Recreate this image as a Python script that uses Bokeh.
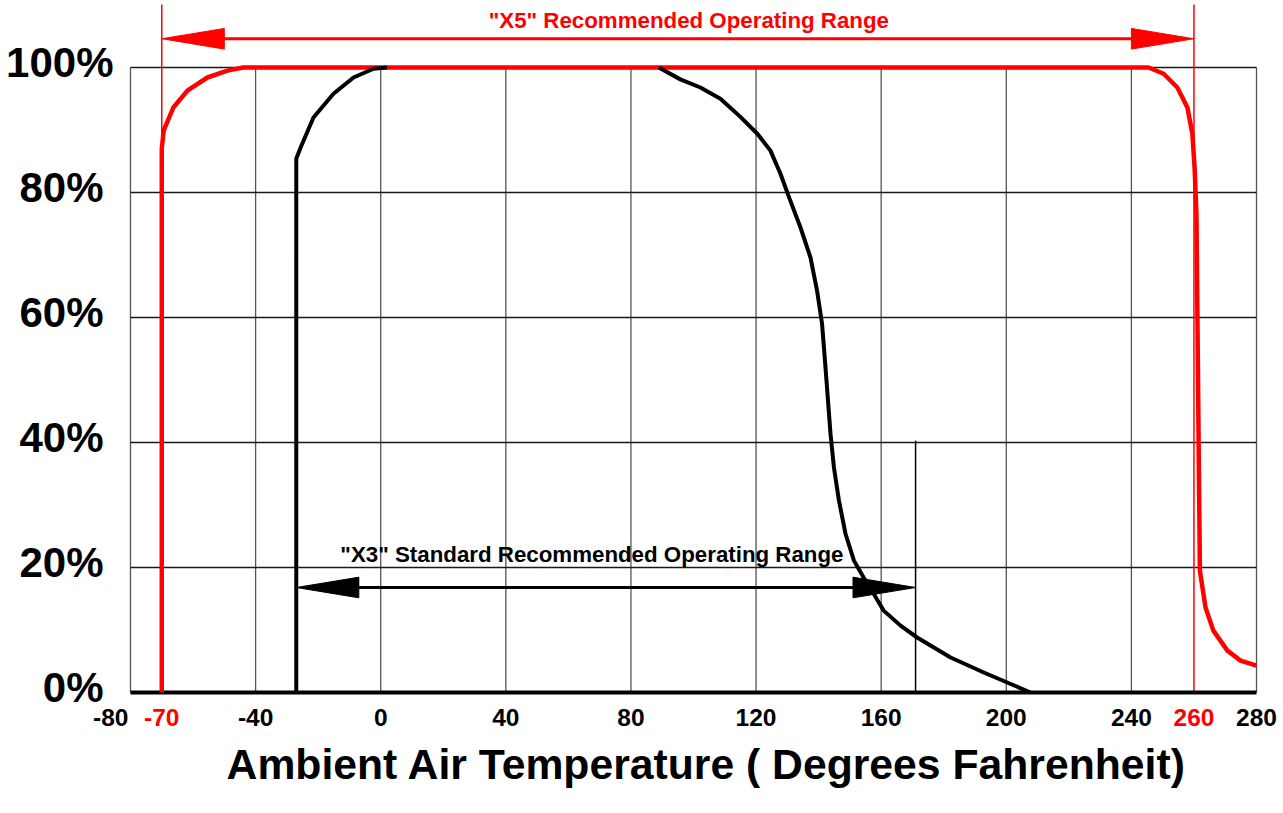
from bokeh.plotting import figure
from bokeh.models import Range1d
from bokeh.core.properties import value
from bokeh.embed import file_html
from bokeh.resources import INLINE

# ---------------- data ----------------
# "X5" curve (red): % performance vs ambient temperature (deg F)
x5_temp = [-70, -70, -69.4, -66.3, -61.8, -55.4, -49.0, -44.0, 245.5, 250.3, 254.7,
           257.9, 259.5, 260.2, 260.8, 261.3, 261.9, 263.7, 266.2, 270.7, 274.9, 280.0]
x5_pct = [0, 87.0, 89.9, 93.6, 96.3, 98.4, 99.5, 100, 100, 99.0, 96.8,
          93.6, 89.4, 84.0, 76.6, 50.0, 19.5, 13.6, 9.9, 6.7, 5.1, 4.3]

# "X3" curve (black): cold side and hot side
x3_cold_temp = [-27, -27, -25.6, -21.5, -15.1, -8.7, -2.3, 2.0]
x3_cold_pct = [0, 85.4, 87.2, 92.0, 95.8, 98.4, 99.8, 100]
x3_hot_temp = [88.9, 95.8, 102.2, 108.6, 115.0, 120.4, 124.6, 127.8, 130.5, 134.2,
               137.4, 139.5, 141.1, 142.2, 143.8, 144.9, 146.5, 148.6, 151.3, 154.4,
               157.6, 160.8, 166.2, 171.5, 182.2, 192.8, 200.3, 207.7]
x3_hot_pct = [100, 98.1, 96.8, 95.0, 92.1, 89.4, 86.7, 83.0, 79.3, 74.4,
              69.6, 64.3, 59.0, 52.0, 41.4, 36.0, 30.7, 25.4, 21.1, 18.4,
              15.8, 13.1, 10.7, 8.8, 5.6, 3.2, 1.6, 0]

x5_range = [-70, 260]
x3_range = [-27, 171]
x3_marker_top = 40.3

x_ticks = [-80, -40, 0, 40, 80, 120, 160, 200, 240, 280]
red_ticks = [-70, 260]
y_ticks = [0, 20, 40, 60, 80, 100]

x5_label = '"X5" Recommended Operating Range'
x3_label = '"X3" Standard Recommended Operating Range'
x_title = "Ambient Air Temperature ( Degrees Fahrenheit)"

# ---------------- layout constants ----------------
X_MIN, X_MAX = x_ticks[0], x_ticks[-1]
Y_MIN, Y_MAX = y_ticks[0], y_ticks[-1]
# the data frame fills the whole canvas so that tick labels can be drawn as text
VIEW_X = (-121.56, 288.63)
VIEW_Y = (-19.36, 110.72)
RED_LINE_TOP = 110.1
X5_ARROW_Y = 104.6
X3_ARROW_Y = 16.8
X5_TEXT_Y = 107.5
X3_TEXT_Y = 22.1
HEAD_LEN = 20.0          # deg F
HEAD_HALF = 1.65         # %
FONT = value("Liberation Sans")

p = figure(width=1283, height=813,
           x_range=Range1d(*VIEW_X), y_range=Range1d(*VIEW_Y),
           x_axis_location=None, y_axis_location=None,
           output_backend="svg", toolbar_location=None,
           min_border=0)
p.min_border_left = p.min_border_right = p.min_border_top = p.min_border_bottom = 0
p.outline_line_color = None
p.xgrid.visible = False
p.ygrid.visible = False
p.background_fill_color = "white"
p.border_fill_color = "white"

# ---------------- grid box (0..100%) ----------------
n_x = len(x_ticks)
p.segment(x0=x_ticks, y0=[Y_MIN] * n_x, x1=x_ticks, y1=[Y_MAX] * n_x,
          line_color="#555555", line_width=1.3)
hy = y_ticks[1:]
p.segment(x0=[X_MIN] * len(hy), y0=hy, x1=[X_MAX] * len(hy), y1=hy,
          line_color="#1a1a1a", line_width=1.3)

# ---------------- tick labels ----------------
p.text(x=[X_MIN] * (len(y_ticks) - 1), y=y_ticks[:-1], text=[f"{t}%" for t in y_ticks[:-1]],
       x_offset=-27, y_offset=-5, text_align="right", text_baseline="middle",
       text_font=FONT, text_font_style="bold", text_font_size="42px", text_color="black")
p.text(x=[X_MIN], y=[Y_MAX], text=[f"{Y_MAX}%"],
       x_offset=-17, y_offset=-5, text_align="right", text_baseline="middle",
       text_font=FONT, text_font_style="bold", text_font_size="42px", text_color="black")

p.text(x=x_ticks[1:], y=[Y_MIN] * (n_x - 1), text=[str(t) for t in x_ticks[1:]],
       y_offset=16, text_align="center", text_baseline="top",
       text_font=FONT, text_font_style="bold", text_font_size="24.5px", text_color="black")
p.text(x=[X_MIN], y=[Y_MIN], text=[str(X_MIN)],
       x_offset=-2, y_offset=16, text_align="right", text_baseline="top",
       text_font=FONT, text_font_style="bold", text_font_size="24.5px", text_color="black")
p.text(x=red_ticks, y=[Y_MIN] * len(red_ticks), text=[str(t) for t in red_ticks],
       y_offset=16, text_align="center", text_baseline="top",
       text_font=FONT, text_font_style="bold", text_font_size="24.5px", text_color="red")

p.text(x=[(X_MIN + X_MAX) / 2], y=[Y_MIN], text=[x_title],
       x_offset=13, y_offset=71, text_align="center", text_baseline="alphabetic",
       text_font=FONT, text_font_style="bold", text_font_size="42.7px", text_color="black")

# ---------------- marker lines ----------------
p.segment(x0=x5_range, y0=[Y_MIN] * 2, x1=x5_range, y1=[RED_LINE_TOP] * 2,
          line_color="red", line_width=1.5)
p.segment(x0=[x3_range[1]], y0=[Y_MIN], x1=[x3_range[1]], y1=[x3_marker_top],
          line_color="black", line_width=1.5)

# bottom axis line
p.segment(x0=[X_MIN], y0=[Y_MIN], x1=[X_MAX], y1=[Y_MIN], line_color="black", line_width=4)

# ---------------- curves ----------------
p.line(x5_temp, x5_pct, line_color="red", line_width=4.5, line_join="round")
p.line(x3_cold_temp, x3_cold_pct, line_color="black", line_width=4, line_join="round")
p.line(x3_hot_temp, x3_hot_pct, line_color="black", line_width=4, line_join="round")

# ---------------- range arrows ----------------
def arrow(rng, y, color):
    a, b = rng
    p.segment(x0=[a + HEAD_LEN * 0.5], y0=[y], x1=[b - HEAD_LEN * 0.5], y1=[y],
              line_color=color, line_width=3)
    p.patches(xs=[[a, a + HEAD_LEN, a + HEAD_LEN], [b, b - HEAD_LEN, b - HEAD_LEN]],
              ys=[[y, y + HEAD_HALF, y - HEAD_HALF], [y, y + HEAD_HALF, y - HEAD_HALF]],
              fill_color=color, line_color=color, line_width=1)

arrow(x5_range, X5_ARROW_Y, "red")
arrow(x3_range, X3_ARROW_Y, "black")

p.text(x=[sum(x5_range) / 2], y=[X5_TEXT_Y], text=[x5_label], x_offset=11,
       text_align="center", text_baseline="alphabetic",
       text_font=FONT, text_font_style="bold", text_font_size="22.3px",
       text_color="red")
p.text(x=[sum(x3_range) / 2], y=[X3_TEXT_Y], text=[x3_label], x_offset=-14,
       text_align="center", text_baseline="alphabetic",
       text_font=FONT, text_font_style="bold", text_font_size="22.3px",
       text_color="black")

open("out.html", "w").write(file_html(p, INLINE))
